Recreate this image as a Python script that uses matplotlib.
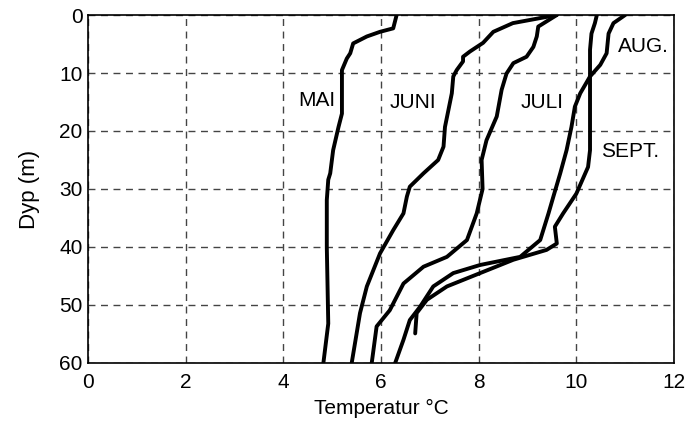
import matplotlib.pyplot as plt

plt.rcParams['font.family'] = ['Liberation Sans', 'DejaVu Sans']

# temperature (C) / depth (m) profiles
mai_t = [6.32, 6.25, 5.98, 5.71, 5.43, 5.37, 5.30, 5.26, 5.20, 5.20, 5.13, 5.02, 4.96, 4.92, 4.89, 4.89, 4.92, 4.82]
mai_d = [0, 2.3, 2.9, 3.7, 4.9, 6.6, 7.5, 8.3, 9.5, 17, 19.3, 23.3, 27.3, 28.4, 31.9, 40, 53.2, 60]

juni_t = [9.6, 8.7, 8.3, 8.09, 7.82, 7.68, 7.68, 7.55, 7.48, 7.45, 7.38, 7.31, 7.28, 7.17, 6.87, 6.59,
          6.53, 6.46, 6.25, 5.98, 5.71, 5.57, 5.40]
juni_d = [0, 1.4, 2.9, 4.8, 6.3, 7.2, 8.0, 9.5, 10.6, 13.5, 16.4, 19.3, 22.7, 25, 27.3, 29.6,
          31.3, 34.2, 37.1, 41.1, 46.8, 51.4, 60]

juli_t = [9.6, 9.22, 9.19, 9.12, 8.98, 8.71, 8.57, 8.47, 8.37, 8.16, 8.06, 8.08, 7.96, 7.76, 7.35,
          6.87, 6.46, 6.18, 5.91, 5.81]
juli_d = [0, 2.0, 3.7, 5.5, 7.2, 8.3, 10.1, 12.9, 17.5, 21.6, 25, 30, 34.2, 38.8, 41.7,
          43.4, 46.3, 50.9, 53.7, 60]

aug_t = [11.0, 10.76, 10.66, 10.62, 10.49, 10.28, 10.08, 9.97, 9.90, 9.80, 9.67, 9.53, 9.43, 9.26,
         8.85, 8.03, 7.48, 7.07, 6.80, 6.59, 6.46, 6.29]
aug_d = [0, 1.4, 3.2, 6.6, 8.6, 10.6, 13.5, 15.8, 19.3, 23.3, 27.3, 31.3, 34.2, 38.8,
         41.7, 43.1, 44.5, 46.8, 50.3, 52.6, 56, 60]

sept_t = [10.42, 10.38, 10.31, 10.28, 10.28, 10.24, 10.0, 9.73, 9.56, 9.60, 9.39, 8.71, 8.03,
          7.35, 6.94, 6.73, 6.70]
sept_d = [0, 1.4, 3.2, 6, 23.3, 26.2, 30.8, 34.2, 36.5, 39.4, 40.5, 42.2, 44.5,
          46.8, 49.1, 51.4, 54.9]

profiles = [(mai_t, mai_d), (juni_t, juni_d), (juli_t, juli_d), (aug_t, aug_d), (sept_t, sept_d)]

labels = ['MAI', 'JUNI', 'JULI', 'AUG.', 'SEPT.']
label_t = [4.68, 6.66, 9.29, 11.37, 11.1]
label_d = [14.7, 15.0, 15.0, 5.5, 23.6]

fig = plt.figure(figsize=(6.94, 4.25), dpi=100)
ax = fig.add_axes([0.1268, 0.1459, 0.8444, 0.8188])

for t, d in profiles:
    ax.plot(t, d, color='black', linewidth=2.8, solid_joinstyle='round', solid_capstyle='round')

for lab, t, d in zip(labels, label_t, label_d):
    ax.text(t, d, lab, ha='center', va='center', fontsize=15)

ax.set_xlim(0, 12)
ax.set_ylim(60, 0)
ax.set_xticks(range(0, 13, 2))
ax.set_yticks(range(0, 61, 10))
ax.grid(True, linestyle=(0, (5, 4)), color='#444444', linewidth=1)
ax.tick_params(axis='x', length=0, labelsize=15, pad=7)
ax.tick_params(axis='y', length=0, labelsize=15, pad=4)
ax.set_xlabel('Temperatur °C', fontsize=15, labelpad=5)
ax.set_ylabel('Dyp (m)', fontsize=16, labelpad=14)
for s in ax.spines.values():
    s.set_linewidth(1.2)

fig.savefig('out.png', dpi=100)
